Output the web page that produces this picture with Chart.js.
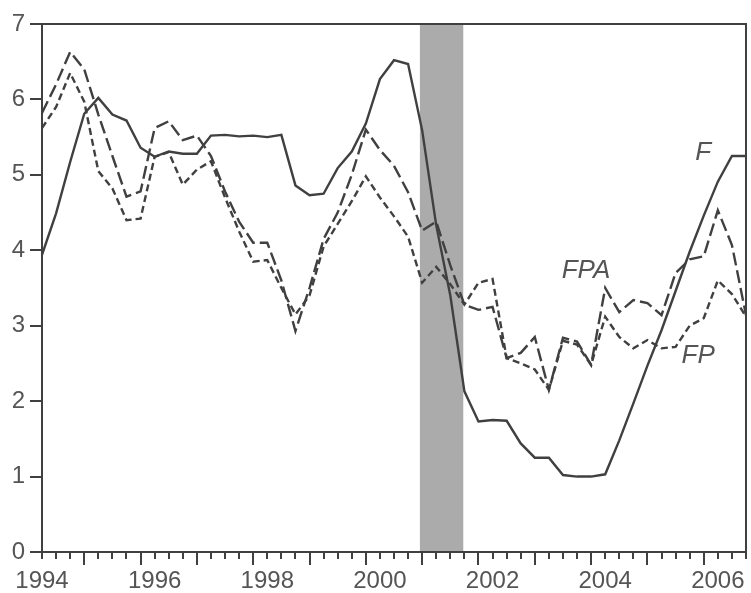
<!DOCTYPE html>
<html>
<head>
<meta charset="utf-8">
<script src="https://cdn.jsdelivr.net/npm/chart.js@4.4.1/dist/chart.umd.min.js"></script>
<style>
  html, body { margin: 0; padding: 0; background: #fff; }
  #wrap { width: 751px; height: 593px; }
</style>
</head>
<body>
<div id="wrap"><canvas id="chart" width="751" height="593"></canvas></div>
<script>
// quarterly observations, 1994Q1 .. 2006Q3
const quarters = [
  '1994Q1','1994Q2','1994Q3','1994Q4','1995Q1','1995Q2','1995Q3','1995Q4',
  '1996Q1','1996Q2','1996Q3','1996Q4','1997Q1','1997Q2','1997Q3','1997Q4',
  '1998Q1','1998Q2','1998Q3','1998Q4','1999Q1','1999Q2','1999Q3','1999Q4',
  '2000Q1','2000Q2','2000Q3','2000Q4','2001Q1','2001Q2','2001Q3','2001Q4',
  '2002Q1','2002Q2','2002Q3','2002Q4','2003Q1','2003Q2','2003Q3','2003Q4',
  '2004Q1','2004Q2','2004Q3','2004Q4','2005Q1','2005Q2','2005Q3','2005Q4',
  '2006Q1','2006Q2','2006Q3'
];

const seriesF = [
  3.94, 4.49, 5.17, 5.81, 6.02, 5.80, 5.72, 5.36, 5.24, 5.31, 5.28, 5.28,
  5.52, 5.53, 5.51, 5.52, 5.50, 5.53, 4.86, 4.73, 4.75, 5.09, 5.31, 5.68,
  6.27, 6.52, 6.47, 5.59, 4.33, 3.40, 2.13, 1.73, 1.75, 1.74, 1.44, 1.25,
  1.25, 1.02, 1.00, 1.00, 1.03, 1.48, 1.97, 2.47, 2.94, 3.46, 3.98, 4.46,
  4.91, 5.25, 5.25
];

const seriesFPA = [
  5.82, 6.20, 6.63, 6.40, 5.80, 5.25, 4.71, 4.78, 5.62, 5.71, 5.46, 5.52,
  5.25, 4.78, 4.38, 4.10, 4.10, 3.60, 2.93, 3.50, 4.15, 4.50, 5.00, 5.60,
  5.33, 5.12, 4.77, 4.26, 4.38, 3.80, 3.28, 3.21, 3.25, 2.57, 2.64, 2.85,
  2.15, 2.84, 2.79, 2.48, 3.50, 3.18, 3.34, 3.30, 3.14, 3.70, 3.88, 3.92,
  4.53, 4.07, 3.14
];

const seriesFP = [
  5.62, 5.90, 6.35, 5.97, 5.05, 4.82, 4.40, 4.42, 5.24, 5.30, 4.87, 5.07,
  5.18, 4.70, 4.25, 3.85, 3.87, 3.50, 3.15, 3.40, 4.05, 4.35, 4.65, 4.98,
  4.70, 4.45, 4.18, 3.57, 3.78, 3.55, 3.28, 3.57, 3.62, 2.57, 2.50, 2.42,
  2.15, 2.80, 2.75, 2.48, 3.12, 2.85, 2.70, 2.81, 2.70, 2.72, 3.00, 3.10,
  3.60, 3.42, 3.12
];

const yearLabels = [1994, 1996, 1998, 2000, 2002, 2004, 2006];
const yTicks = [0, 1, 2, 3, 4, 5, 6, 7];
const recession = [2000.71, 2001.48];

const seriesLabels = [
  { text: 'F', x: 2005.74, y: 5.29 },
  { text: 'FPA', x: 2003.66, y: 3.73 },
  { text: 'FP', x: 2005.65, y: 2.60 }
];

const INK = '#404040';
const TEXT = '#555555';

function qToX(q) {
  return parseInt(q.slice(0, 4)) + (parseInt(q.slice(5)) - 1) / 4;
}
function toPoints(values) {
  return values.map((v, i) => ({ x: qToX(quarters[i]), y: v }));
}

// grey band, frame, quarterly ticks and series names
const decor = {
  id: 'decor',
  beforeDatasetsDraw(chart) {
    const { ctx, chartArea: a, scales: { x } } = chart;
    ctx.save();
    ctx.fillStyle = '#ababab';
    const x0 = x.getPixelForValue(recession[0]);
    const x1 = x.getPixelForValue(recession[1]);
    ctx.fillRect(x0, a.top, x1 - x0, a.bottom - a.top);
    ctx.restore();
  },
  afterDatasetsDraw(chart) {
    const { ctx, chartArea: a, scales: { x, y } } = chart;
    ctx.save();
    ctx.strokeStyle = INK;
    ctx.lineWidth = 2;
    ctx.strokeRect(a.left, a.top, a.right - a.left, a.bottom - a.top);

    // quarter ticks below the axis, long ones at the fourth quarter
    quarters.forEach(q => {
      const px = Math.round(x.getPixelForValue(qToX(q)));
      const len = q.endsWith('Q4') ? 13 : 7;
      ctx.beginPath();
      ctx.moveTo(px, a.bottom);
      ctx.lineTo(px, a.bottom + len);
      ctx.stroke();
    });

    ctx.fillStyle = TEXT;
    ctx.font = 'italic 26px "Liberation Sans", Arial, sans-serif';
    ctx.textAlign = 'center';
    ctx.textBaseline = 'middle';
    seriesLabels.forEach(l => {
      ctx.fillText(l.text, x.getPixelForValue(l.x), y.getPixelForValue(l.y));
    });
    ctx.restore();
  }
};

new Chart(document.getElementById('chart'), {
  type: 'line',
  data: {
    datasets: [
      { label: 'F', data: toPoints(seriesF), borderColor: INK, borderWidth: 2.4 },
      { label: 'FPA', data: toPoints(seriesFPA), borderColor: INK, borderWidth: 2.4, borderDash: [13, 5] },
      { label: 'FP', data: toPoints(seriesFP), borderColor: INK, borderWidth: 2.4, borderDash: [7, 4] }
    ]
  },
  options: {
    responsive: false,
    animation: false,
    layout: { padding: { top: 24, right: 5, left: 0, bottom: 0 } },
    elements: { point: { radius: 0 }, line: { tension: 0 } },
    plugins: { legend: { display: false }, tooltip: { enabled: false } },
    scales: {
      x: {
        type: 'linear',
        min: 1994,
        max: 2006.5,
        afterBuildTicks(scale) { scale.ticks = yearLabels.map(v => ({ value: v })); },
        afterFit(scale) {
          scale.height = 41;
          scale.paddingLeft = 0;
          scale.paddingRight = 0;
        },
        grid: { display: false, drawTicks: false },
        border: { color: INK, width: 2 },
        ticks: {
          color: TEXT,
          padding: 15,
          maxRotation: 0,
          autoSkip: false,
          font: { family: '"Liberation Sans", Arial, sans-serif', size: 24 },
          callback: v => String(v)
        }
      },
      y: {
        min: 0,
        max: 7,
        afterBuildTicks(scale) { scale.ticks = yTicks.map(v => ({ value: v })); },
        afterFit(scale) {
          scale.width = 42;
          scale.paddingTop = 0;
          scale.paddingBottom = 0;
        },
        grid: { drawOnChartArea: false, color: INK, lineWidth: 2, tickLength: 12 },
        border: { color: INK, width: 2 },
        ticks: {
          color: TEXT,
          padding: 5,
          font: { family: '"Liberation Sans", Arial, sans-serif', size: 24 }
        }
      }
    }
  },
  plugins: [decor]
});
</script>
</body>
</html>
